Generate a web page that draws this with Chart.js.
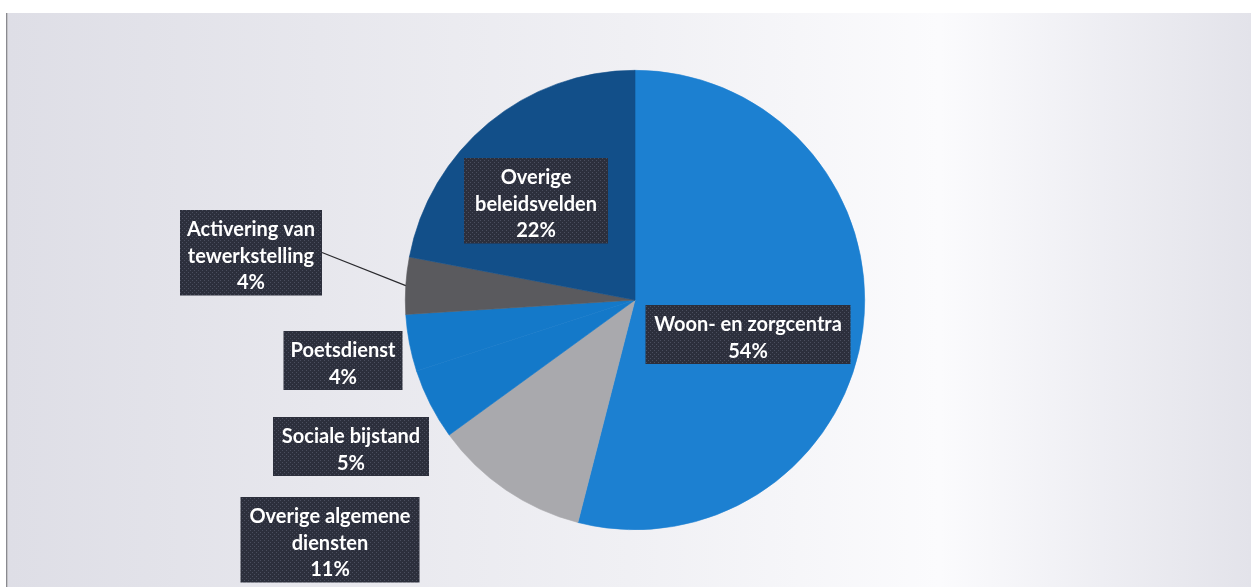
<!DOCTYPE html>
<html>
<head>
<meta charset="utf-8">
<script src="https://cdn.jsdelivr.net/npm/chart.js@4.4.0/dist/chart.umd.min.js"></script>
<style>
  html, body { margin: 0; padding: 0; background: #ffffff; }
  #wrap { width: 1251px; height: 587px; position: relative; }
</style>
</head>
<body>
<div id="wrap"><canvas id="mychart"></canvas></div>
<script>
// data, clockwise from 12 o'clock
var categories = ["Woon- en zorgcentra", "Overige algemene diensten", "Sociale bijstand",
                  "Poetsdienst", "Activering van tewerkstelling", "Overige beleidsvelden"];
var shares = [54, 11, 5, 4, 4, 22];
// label text, one entry per line
var labelLines = [
  ["Woon- en zorgcentra", "54%"],
  ["Overige algemene", "diensten", "11%"],
  ["Sociale bijstand", "5%"],
  ["Poetsdienst", "4%"],
  ["Activering van", "tewerkstelling", "4%"],
  ["Overige", "beleidsvelden", "22%"]
];

var sliceColors = ["#1c80d1", "#a9a9ad", "#1479c9", "#1479c9", "#5a5a5e", "#124f89"];

// where the label boxes sit (box centre x, first line y, width) and whether a leader line is drawn
var labelBoxes = [
  { x: 748, y: 325, w: 205, leader: false },
  { x: 330, y: 517, w: 179, leader: false },
  { x: 351, y: 437, w: 156, leader: false },
  { x: 343, y: 351, w: 119, leader: false },
  { x: 251, y: 230, w: 142, leader: true },
  { x: 536, y: 178, w: 144, leader: false }
];

// little dotted texture for the dark boxes
function boxPattern(ctx) {
  var c = document.createElement("canvas");
  c.width = 4; c.height = 4;
  var p = c.getContext("2d");
  p.fillStyle = "#2c2f3c";
  p.fillRect(0, 0, 4, 4);
  p.fillStyle = "#4a4e5e";
  p.fillRect(0, 0, 1, 1);
  p.fillRect(2, 2, 1, 1);
  return ctx.createPattern(c, "repeat");
}

var background = {
  id: "background",
  beforeDraw: function(chart) {
    var ctx = chart.ctx;
    ctx.save();
    ctx.fillStyle = "#ffffff";
    ctx.fillRect(0, 0, chart.width, chart.height);
    var g = ctx.createLinearGradient(8, 0, chart.width, 0);
    g.addColorStop(0, "#dedee6");
    g.addColorStop(0.25, "#e7e7ed");
    g.addColorStop(0.5, "#f0f0f4");
    g.addColorStop(0.75, "#fbfbfd");
    g.addColorStop(0.88, "#eeeef3");
    g.addColorStop(1, "#e3e3ea");
    ctx.fillStyle = g;
    ctx.fillRect(8, 13, chart.width - 8, chart.height - 13);
    ctx.fillStyle = "#8a8a90";
    ctx.fillRect(6, 13, 1.5, chart.height - 13);
    ctx.restore();
  }
};

var boxLabels = {
  id: "boxLabels",
  afterDatasetsDraw: function(chart) {
    var ctx = chart.ctx;
    var arcs = chart.getDatasetMeta(0).data;
    var lineH = 26.5;
    ctx.save();
    var pat = boxPattern(ctx);
    ctx.font = "bold 20px Lato, 'Open Sans', sans-serif";
    ctx.textAlign = "center";
    ctx.textBaseline = "middle";
    labelBoxes.forEach(function(b, i) {
      var lines = labelLines[i];
      var top = b.y - 20;
      var h = lines.length * lineH + 6;
      if (b.leader) {
        var a = arcs[i];
        var mid = (a.startAngle + a.endAngle) / 2;
        ctx.strokeStyle = "#2a2a2e";
        ctx.lineWidth = 1.2;
        ctx.beginPath();
        ctx.moveTo(b.x + b.w / 2, b.y + lineH - 4);
        ctx.lineTo(a.x + Math.cos(mid) * a.outerRadius, a.y + Math.sin(mid) * a.outerRadius);
        ctx.stroke();
      }
      ctx.fillStyle = pat;
      ctx.fillRect(b.x - b.w / 2, top, b.w, h);
      ctx.fillStyle = "#ffffff";
      lines.forEach(function(t, k) {
        ctx.fillText(t, b.x, b.y + k * lineH);
      });
    });
    ctx.restore();
  }
};

var mychart = new Chart("mychart", {
  type: "pie",
  data: {
    labels: categories,
    datasets: [{
      data: shares,
      backgroundColor: sliceColors,
      borderColor: sliceColors,
      borderWidth: 0.6
    }]
  },
  options: {
    responsive: true,
    maintainAspectRatio: false,
    animation: false,
    layout: { padding: { top: 70, bottom: 57, left: 100, right: 81 } },
    plugins: {
      legend: { display: false },
      tooltip: { enabled: false }
    }
  },
  plugins: [background, boxLabels]
});
</script>
</body>
</html>
